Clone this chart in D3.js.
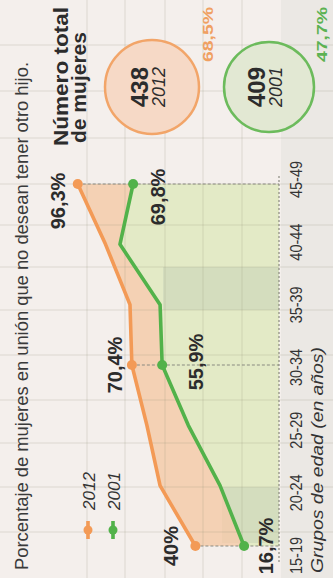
<!DOCTYPE html>
<html><head><meta charset="utf-8">
<script src="https://cdn.jsdelivr.net/npm/d3@7"></script>
<style>html,body{margin:0;padding:0;background:#f4efec;} svg{display:block}</style>
</head><body>
<svg id="c" width="333" height="578"></svg>
<script>
// ---- data ----
const categories = ["15-19","20-24","25-29","30-34","35-39","40-44","45-49"];
const values2012 = [40, 56.9, 63.2, 70.4, 71.3, 83, 96.3];
const values2001 = [16.7, 28.2, 43.4, 55.9, 56.9, 76.1, 69.8];
const labeledCats = ["15-19","30-34","45-49"];
const labels2012 = ["40%","70,4%","96,3%"];
const labels2001 = ["16,7%","55,9%","69,8%"];
const seriesNames = ["2012","2001"];
const totals = ["438","409"];
const totalPct = ["68,5%","47,7%"];
const titleText = "Porcentaje de mujeres en unión que no desean tener otro hijo.";
const axisTitle = "Grupos de edad (en años)";
const totalTitle = ["Número total","de mujeres"];

// ---- layout (rotated frame: width 578, height 333) ----
const W = 578, H = 333;
const ORANGE = "#f39a56", GREEN = "#52b24a";
const FONT = "'Liberation Sans', Arial, sans-serif";
const nudge2012 = [[0,-17],[0,-10],[-17,-13]];
const nudge2001 = [[0,29],[3,41],[-13,32]];

const svg = d3.select("#c");
svg.append("rect").attr("width",333).attr("height",578).attr("fill","#f4efec");
const g = svg.append("g").attr("transform","translate(0,578) rotate(-90)");

const x = d3.scalePoint().domain(categories).range([32,394]);
const xl = d3.scalePoint().domain(categories).range([22,398]);
const y = d3.scaleLinear().domain([0,100]).range([279,70]);

// right column tint
g.append("rect").attr("x",0).attr("y",281).attr("width",W).attr("height",H-281).attr("fill","#ebe8e4");

// green area below 2001
const rows = categories.map((c,i)=>({c, a:values2012[i], b:values2001[i]}));
g.append("path").datum(rows)
  .attr("d", d3.area().x(d=>x(d.c)).y0(y(0)).y1(d=>y(d.b)))
  .attr("fill","#e3eac6");
// darker bleed bands inside green area
g.append("rect").attr("x",268).attr("y",163).attr("width",43).attr("height",y(0)-163).attr("fill","#cfd9bb").attr("opacity",0.8);
g.append("rect").attr("x",35).attr("y",222).attr("width",56).attr("height",y(0)-222).attr("fill","#cfd9bb").attr("opacity",0.8);
// orange band between series
g.append("path").datum(rows)
  .attr("d", d3.area().x(d=>x(d.c)).y0(d=>y(d.b)).y1(d=>y(d.a)))
  .attr("fill","#f3cbaa").attr("opacity",0.85);

// decorative grid
const gridV = [87,125,165,203,242];
const gridU = [46,91,135,178,223,268,311,353,394,440,487,533];
g.append("g").selectAll("line").data(gridV).join("line")
  .attr("x1",0).attr("x2",W).attr("y1",d=>d).attr("y2",d=>d)
  .attr("stroke","#8c8c78").attr("stroke-opacity",0.16).attr("stroke-width",1.5);
g.append("g").selectAll("line").data(gridU).join("line")
  .attr("x1",d=>d).attr("x2",d=>d).attr("y1",0).attr("y2",H)
  .attr("stroke","#8c8c78").attr("stroke-opacity",0.16).attr("stroke-width",1.5);

// dotted axis line
g.append("line").attr("x1",16).attr("x2",402).attr("y1",y(0)).attr("y2",y(0))
  .attr("stroke","#8a8a80").attr("stroke-width",1.2).attr("stroke-dasharray","2,2");
// dashed guides at labelled points
labeledCats.forEach(c=>{
  const i = categories.indexOf(c);
  g.append("line").attr("x1",x(c)).attr("x2",x(c))
    .attr("y1",y(values2012[i])).attr("y2",y(0))
    .attr("stroke","#8a8a80").attr("stroke-width",1.2).attr("stroke-dasharray","3,2");
});

// lines
const line = d3.line().x(d=>x(d.c)).y(d=>d.v);
g.append("path").datum(rows.map(d=>({c:d.c,v:y(d.b)})))
  .attr("d",line).attr("fill","none").attr("stroke",GREEN).attr("stroke-width",3.6).attr("stroke-linejoin","round");
g.append("path").datum(rows.map(d=>({c:d.c,v:y(d.a)})))
  .attr("d",line).attr("fill","none").attr("stroke",ORANGE).attr("stroke-width",3.6).attr("stroke-linejoin","round");

// dots + labels
labeledCats.forEach((c,k)=>{
  const i = categories.indexOf(c);
  g.append("circle").attr("cx",x(c)).attr("cy",y(values2012[i])).attr("r",5).attr("fill",ORANGE);
  g.append("circle").attr("cx",x(c)).attr("cy",y(values2001[i])).attr("r",5).attr("fill",GREEN);
  g.append("text").attr("x",x(c)+nudge2012[k][0]).attr("y",y(values2012[i])+nudge2012[k][1])
    .attr("text-anchor","middle").attr("font-family",FONT).attr("font-weight","bold")
    .attr("font-size",20).attr("fill","#2c2c2c").text(labels2012[k]);
  g.append("text").attr("x",x(c)+nudge2001[k][0]).attr("y",y(values2001[i])+nudge2001[k][1])
    .attr("text-anchor","middle").attr("font-family",FONT).attr("font-weight","bold")
    .attr("font-size",20).attr("fill","#2c2c2c").text(labels2001[k]);
});

// x axis
const ax = g.append("g").attr("transform","translate(0,302)")
  .call(d3.axisBottom(xl).tickSize(0).tickPadding(0));
ax.select(".domain").remove();
ax.selectAll("text").attr("y",0).attr("dy",0).attr("font-family",FONT).attr("font-size",16)
  .attr("fill","#333").attr("textLength",37).attr("lengthAdjust","spacingAndGlyphs");
g.append("text").attr("x",5).attr("y",323).attr("font-family",FONT).attr("font-style","italic")
  .attr("font-size",17).attr("fill","#333").attr("textLength",226).attr("lengthAdjust","spacingAndGlyphs")
  .text(axisTitle);

// title
g.append("text").attr("x",8).attr("y",28).attr("font-family",FONT).attr("font-size",19)
  .attr("fill","#3a3a3a").attr("textLength",508).attr("lengthAdjust","spacingAndGlyphs").text(titleText);

// legend
const legV = [88,113];
seriesNames.forEach((s,i)=>{
  const col = i===0?ORANGE:GREEN;
  g.append("line").attr("x1",39).attr("x2",57).attr("y1",legV[i]).attr("y2",legV[i])
    .attr("stroke",col).attr("stroke-width",3.6);
  g.append("circle").attr("cx",48).attr("cy",legV[i]).attr("r",4.5).attr("fill",col);
  g.append("text").attr("x",68).attr("y",legV[i]+7).attr("font-family",FONT).attr("font-style","italic")
    .attr("font-size",17).attr("fill","#333").attr("textLength",38).attr("lengthAdjust","spacingAndGlyphs").text(s);
});

// totals block
g.append("text").attr("x",432).attr("y",68).attr("font-family",FONT).attr("font-weight","bold")
  .attr("font-size",21).attr("fill","#2c2c2c").attr("textLength",139).attr("lengthAdjust","spacingAndGlyphs").text(totalTitle[0]);
g.append("text").attr("x",435).attr("y",86).attr("font-family",FONT).attr("font-weight","bold")
  .attr("font-size",21).attr("fill","#2c2c2c").attr("textLength",111).attr("lengthAdjust","spacingAndGlyphs").text(totalTitle[1]);

const circV = [152,269], circR = [47,45];
const circFill = ["#f6d9c6","#e2e8d3"], circStroke = ["#f2a569","#6cbb5c"];
seriesNames.forEach((s,i)=>{
  g.append("circle").attr("cx",491).attr("cy",circV[i]).attr("r",circR[i])
    .attr("fill",circFill[i]).attr("stroke",circStroke[i]).attr("stroke-width",2.5);
  g.append("text").attr("x",491).attr("y",circV[i]-4).attr("text-anchor","middle")
    .attr("font-family",FONT).attr("font-weight","bold").attr("font-size",24).attr("fill","#2c2c2c").text(totals[i]);
  g.append("text").attr("x",491).attr("y",circV[i]+13).attr("text-anchor","middle")
    .attr("font-family",FONT).attr("font-style","italic").attr("font-size",18).attr("fill","#2c2c2c")
    .attr("textLength",40).attr("lengthAdjust","spacingAndGlyphs").text(s);
});
const pctV = [213,327], pctCol = ["#f0a062","#5cb252"];
totalPct.forEach((p,i)=>{
  g.append("text").attr("x",571).attr("y",pctV[i]).attr("text-anchor","end")
    .attr("font-family",FONT).attr("font-weight","bold").attr("font-size",15).attr("fill",pctCol[i])
    .attr("textLength",55).attr("lengthAdjust","spacingAndGlyphs").text(p);
});
</script>
</body></html>
